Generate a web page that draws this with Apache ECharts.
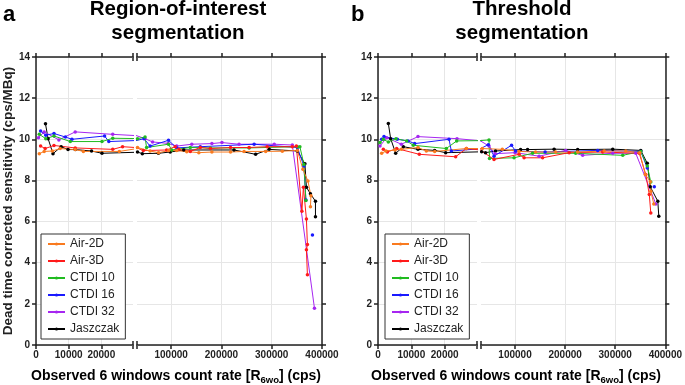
<!DOCTYPE html>
<html>
<head>
<meta charset="utf-8">
<script src="https://cdn.jsdelivr.net/npm/echarts@6/dist/echarts.min.js"></script>
<style>
  html, body { margin: 0; padding: 0; background: #fff; }
  #chart { width: 685px; height: 385px; }
</style>
</head>
<body>
<div id="chart"></div>
<script>
const names = ['Air-2D', 'Air-3D', 'CTDI 10', 'CTDI 16', 'CTDI 32', 'Jaszczak'];
const colors = ['#F97A1F', '#FF1A1A', '#20BB20', '#1A1AFF', '#A626F0', '#000000'];
const lowTicks = [0, 10000, 20000];
const highTicks = [100000, 200000, 300000, 400000];
const lowMax = 29700, highMin = 32000, highMax = 400000;

// region-of-interest segmentation, [count rate, sensitivity]
const roiAir2D = [[1000, 9.30], [2500, 9.41], [5000, 9.43], [7400, 9.55], [12000, 9.50], [14500, 9.41], [25500, 9.41],
  [33000, 9.60], [58000, 9.43], [75000, 9.35], [95000, 9.45], [111000, 9.45], [131000, 9.40], [155000, 9.35],
  [181000, 9.38], [218000, 9.38], [245000, 9.41], [288000, 9.41], [321000, 9.42], [351000, 9.46], [362000, 8.54],
  [372000, 7.97], [378000, 7.25], [377000, 6.72]];
const roiAir3D = [[1400, 9.67], [2800, 9.55], [5500, 9.70], [12000, 9.58], [23500, 9.51], [26500, 9.64],
  [44600, 9.45], [91000, 9.48], [108000, 9.64], [115000, 9.51], [138000, 9.41], [158000, 9.60], [178000, 9.55],
  [218000, 9.60], [255000, 9.60], [291000, 9.64], [341000, 9.64], [349000, 9.67], [360000, 6.50], [363000, 7.67],
  [369000, 6.13], [371000, 4.88], [369000, 4.63], [371000, 3.41]];
const roiCtdi10 = [[1000, 10.24], [3000, 10.03], [5500, 10.16], [10500, 9.89], [20200, 9.89], [23500, 10.05],
  [33000, 10.03], [48000, 10.11], [51000, 9.60], [94600, 9.76], [101000, 9.48], [138000, 9.60], [178000, 9.58],
  [255000, 9.58], [351000, 9.64], [356000, 9.64], [364000, 8.78], [368000, 7.02]];
const roiCtdi16 = [[1400, 10.40], [3000, 10.20], [5500, 10.28], [9000, 10.11], [11000, 10.00], [21000, 10.16],
  [22300, 9.89], [46000, 10.03], [58000, 9.67], [94600, 9.95], [111000, 9.58], [158000, 9.64], [265000, 9.76],
  [351000, 9.60], [364000, 8.70], [368000, 7.05], [375000, '-'], [381000, 5.35]];
const roiCtdi32 = [[750, 10.08], [2500, 10.36], [7000, 9.97], [12000, 10.36], [23500, 10.24], [48000, 10.03],
  [63000, 9.87], [94000, 9.80], [111000, 9.67], [141000, 9.76], [181000, 9.79], [201000, 9.84], [235000, 9.76],
  [305000, 9.76], [341000, 9.72], [385000, 1.79]];
const roiJaszczak = [[2900, 10.75], [3700, 10.03], [5200, 9.30], [7700, 9.64], [9800, 9.50], [12000, 9.50],
  [17000, 9.43], [20200, 9.32], [33000, 9.38], [42600, 9.30], [74600, 9.32], [98000, 9.38], [125000, 9.48],
  [225000, 9.48], [268000, 9.27], [295000, 9.51], [351000, 9.43], [366000, 8.81], [369000, 7.67], [377000, 7.35],
  [387000, 6.99], [387000, 6.23]];

// threshold segmentation
const thrAir2D = [[1100, 9.32], [2400, 9.43], [5100, 9.48], [7000, 9.51], [12000, 9.60], [14500, 9.43], [17000, 9.41],
  [26500, 9.55], [34700, 9.55], [74600, 9.51], [108000, 9.41], [141000, 9.38], [181000, 9.38], [225000, 9.38],
  [278000, 9.43], [321000, 9.43], [349000, 9.35], [360000, 8.29], [370000, 7.94], [371000, 7.48], [377000, 6.86]];
const thrAir3D = [[1600, 9.51], [2800, 9.38], [5600, 9.55], [12400, 9.27], [23300, 9.15], [26500, 9.55],
  [58000, 9.02], [108000, 9.27], [118000, 9.10], [155000, 9.10], [208000, 9.35], [275000, 9.38], [348000, 9.32],
  [361000, 8.29], [368000, 7.32], [371000, 6.42]];
const thrCtdi10 = [[600, 9.84], [1600, 10.00], [3100, 9.87], [5400, 10.03], [8600, 9.92], [10600, 9.71],
  [20500, 9.55], [23600, 9.92], [48000, 9.97], [49000, 9.07], [98000, 9.10], [135000, 9.32], [221000, 9.32],
  [315000, 9.22], [351000, 9.41], [364000, 8.70], [371000, 7.92]];
const thrCtdi16 = [[1100, 10.00], [1800, 10.13], [5800, 10.00], [9000, 9.92], [11000, 9.79], [21300, 10.00],
  [22000, 9.43], [46600, 9.74], [58000, 9.18], [93000, 9.71], [101000, 9.43], [160000, 9.38], [265000, 9.46],
  [351000, 9.41], [364000, 8.60], [372000, '-'], [378000, 7.69]];
const thrCtdi32 = [[600, 9.67], [2600, 10.08], [7000, 9.76], [12000, 10.13], [23700, 10.03], [48000, 9.67],
  [60000, 9.30], [100000, 9.35], [148000, 9.18], [201000, 9.46], [235000, 9.22], [295000, 9.32], [341000, 9.32],
  [381000, 6.86]];
const thrJaszczak = [[3100, 10.77], [3800, 10.03], [5300, 9.32], [7600, 9.64], [12000, 9.51], [17000, 9.46],
  [20300, 9.35], [33400, 9.40], [41000, 9.35], [61000, 9.43], [111000, 9.50], [125000, 9.50], [178000, 9.52],
  [225000, 9.50], [295000, 9.52], [351000, 9.46], [364000, 8.83], [370000, 7.69], [385000, 6.99], [387000, 6.26]];

const font = '"Liberation Sans", Arial, sans-serif';
const ink = '#222';
const plotTop = 57, plotH = 288, lowW = 99, gap = 4, highW = 185;

const panels = [
  {left: 34, letterX: 3, nameX: 176, letter: 'a', title: 'Region-of-interest\nsegmentation',
    sets: [roiAir2D, roiAir3D, roiCtdi10, roiCtdi16, roiCtdi32, roiJaszczak]},
  {left: 378, letterX: 351, nameX: 516, letter: 'b', title: 'Threshold\nsegmentation',
    sets: [thrAir2D, thrAir3D, thrCtdi10, thrCtdi16, thrCtdi32, thrJaszczak]}
];

// the line crossing the break keeps one point from the other side, clipped by the grid
function segment(points, s) {
  const i = points.findIndex(p => p[0] > lowMax);
  return s === 0 ? points.slice(0, i + 1) : points.slice(i - 1);
}

const axisLine = {onZero: false, lineStyle: {color: ink, width: 1.5}};
const tickStyle = {color: ink, width: 1.5};
const labelStyle = {fontSize: 10, fontWeight: 'bold', color: ink, fontFamily: font};
const gridLine = {lineStyle: {color: '#e6e6e6', width: 1}};

const grid = [], xAxis = [], yAxis = [], series = [];
panels.forEach((pn, p) => {
  [0, 1].forEach(s => {
    const g = p * 2 + s;
    grid.push({left: s ? pn.left + lowW + gap : pn.left, top: plotTop, width: s ? highW : lowW, height: plotH});
    const ticks = s ? highTicks : lowTicks;
    const xBase = {type: 'value', gridIndex: g, min: s ? highMin : 0, max: s ? highMax : lowMax, axisLine: axisLine,
      axisTick: {customValues: ticks, length: 4, lineStyle: tickStyle}};
    xAxis.push({...xBase, position: 'bottom',
      axisLabel: {...labelStyle, customValues: ticks, margin: 5, formatter: v => String(v)},
      splitLine: {show: true, ...gridLine}});
    xAxis.push({...xBase, position: 'top', axisLabel: {show: false}, splitLine: {show: false}});

    const yBase = {type: 'value', gridIndex: g, min: 0, max: 14, interval: 2};
    yAxis.push({...yBase, position: 'left',
      axisLine: {...axisLine, show: !s},
      axisTick: {show: !s, length: 4, lineStyle: tickStyle},
      axisLabel: {...labelStyle, show: !s, margin: 6},
      splitLine: {show: true, ...gridLine},
      name: (!s && p === 0) ? 'Dead time corrected sensitivity (cps/MBq)' : '',
      nameLocation: 'middle', nameGap: 19,
      nameTextStyle: {fontSize: 13.5, fontWeight: 'bold', color: ink, fontFamily: font}});
    yAxis.push({...yBase, position: 'right',
      axisLine: {...axisLine, show: !!s},
      axisTick: {show: !!s, length: 4, lineStyle: tickStyle},
      axisLabel: {show: false}, splitLine: {show: false}});

    // later data sets go underneath, Air-2D ends on top
    pn.sets.map((pts, i) => i).reverse().forEach(i => {
      series.push({type: 'line', name: names[i], xAxisIndex: 2 * g, yAxisIndex: 2 * g,
        data: segment(pn.sets[i], s), color: colors[i], symbol: 'circle', symbolSize: 3.5,
        lineStyle: {width: 1}, clip: true, animation: false});
    });
  });
});

const graphic = [];
panels.forEach(pn => {
  const mid = pn.left + (lowW + gap + highW) / 2;
  graphic.push({type: 'text', x: pn.letterX, y: 15, style: {text: pn.letter, fill: '#000',
    font: 'bold 22px ' + font, verticalAlign: 'middle'}});
  graphic.push({type: 'text', x: mid, y: 21.5, style: {text: pn.title, fill: '#000',
    font: 'bold 20.5px ' + font, lineHeight: 24, align: 'center', verticalAlign: 'middle'}});
  graphic.push({type: 'text', x: pn.nameX, y: 376, style: {
    text: '{b|Observed 6 windows count rate [R}{s|6wo}{b|] (cps)}', align: 'center', verticalAlign: 'middle',
    rich: {
      b: {fontSize: 14, fontWeight: 'bold', fontFamily: font, fill: '#000'},
      s: {fontSize: 9.5, fontWeight: 'bold', fontFamily: font, fill: '#000', padding: [8, 0, 0, 0]}
    }}});
  // "||" break marks on the top and bottom frame
  [plotTop, plotTop + plotH].forEach(y => {
    [pn.left + lowW, pn.left + lowW + gap].forEach(x => {
      graphic.push({type: 'line', shape: {x1: x, y1: y - 4, x2: x, y2: y + 4},
        style: {stroke: ink, lineWidth: 1.5}});
    });
  });
});

const legend = panels.map(pn => ({
  left: pn.left + 7, top: 234, orient: 'vertical', data: names, selectedMode: false,
  itemWidth: 17, itemHeight: 4, itemGap: 5, padding: [4, 6, 4, 6],
  borderColor: '#333', borderWidth: 1, backgroundColor: '#fff',
  textStyle: {fontSize: 12, color: ink, fontFamily: font}
}));

const chart = echarts.init(document.getElementById('chart'));
chart.setOption({
  animation: false,
  textStyle: {fontFamily: font},
  grid, xAxis, yAxis, series, legend, graphic
});
</script>
</body>
</html>
